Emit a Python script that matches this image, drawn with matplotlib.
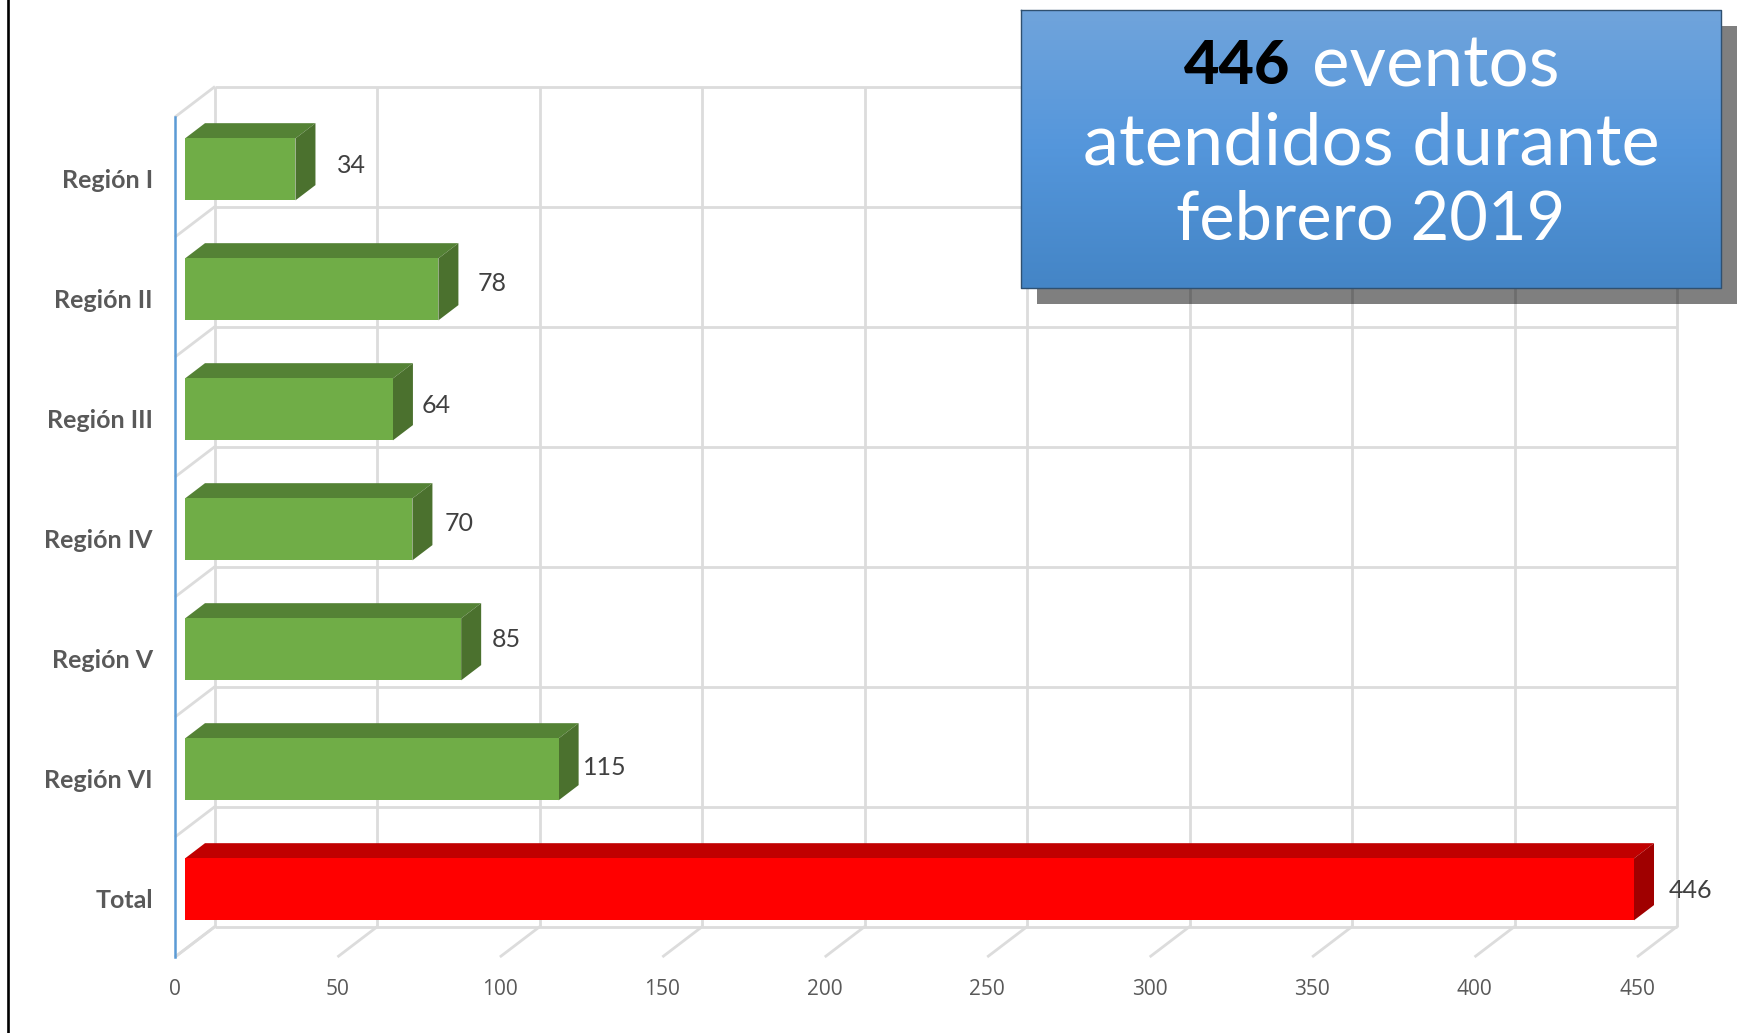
import numpy as np
import matplotlib
matplotlib.use('Agg')
import matplotlib.pyplot as plt

# данные
REGIONS = ['Región I', 'Región II', 'Región III', 'Región IV', 'Región V', 'Región VI', 'Total']
EVENTS = [34, 78, 64, 70, 85, 115, 446]
X_TICKS = [0, 50, 100, 150, 200, 250, 300, 350, 400, 450]

# сдвиг подписей от угла столбца, пиксели (вправо, вниз)
LABEL_DX = [56, 54, 43, 47, 45, 46, 57]
LABEL_DY = [27, 25, 27, 25, 21, 29, 32]

# глубина псевдо-3D
DEPTH_X = 40 / 3.249
DEPTH_Y = 0.254
BAR_H = 0.516

W, H = 1739, 1033
GRID = '#DCDCDC'
FONT = ['Lato', 'DejaVu Sans']

fig = plt.figure(figsize=(W / 100, H / 100), dpi=100, facecolor='white')
ax = fig.add_axes([175 / W, (H - 957) / H, 1462 / W, 840 / H])
ax.set_xlim(0, 450)
ax.set_ylim(len(REGIONS), 0)
ax.patch.set_visible(False)


def pr(v, cat, d):
    # проекция точки с глубиной d (0 - передняя плоскость, 1 - задняя)
    return v + d * DEPTH_X, cat - d * DEPTH_Y


def seg(p, q):
    ax.plot([p[0], q[0]], [p[1], q[1]], color=GRID, lw=2.0, clip_on=False, zorder=1,
            solid_capstyle='butt')


n = len(REGIONS)
for v in X_TICKS:
    seg(pr(v, 0, 1), pr(v, n, 1))
    seg(pr(v, n, 0), pr(v, n, 1))
for c in range(n + 1):
    seg(pr(0, c, 1), pr(450, c, 1))
    seg(pr(0, c, 0), pr(0, c, 1))

# столбцы
for i, val in enumerate(EVENTS):
    front, top, side = ('#FF0000', '#C00000', '#A00000') if REGIONS[i] == 'Total' \
        else ('#70AD47', '#548235', '#4B712E')
    y0 = i + 0.5 - BAR_H / 2
    y1 = i + 0.5 + BAR_H / 2
    a, b = pr(0, y0, 0.25), pr(val, y0, 0.25)
    c, d = pr(val, y1, 0.25), pr(0, y1, 0.25)
    e, f = pr(0, y0, 0.75), pr(val, y0, 0.75)
    g = pr(val, y1, 0.75)
    ax.fill(*zip(a, b, f, e), color=top, lw=0, clip_on=False, zorder=3)
    ax.fill(*zip(b, c, g, f), color=side, lw=0, clip_on=False, zorder=3)
    ax.fill(*zip(a, b, c, d), color=front, lw=0, clip_on=False, zorder=4)
    ax.annotate(str(val), xy=b, xytext=(LABEL_DX[i] * 0.72, -LABEL_DY[i] * 0.72),
                textcoords='offset points', ha='center', va='center', fontsize=18,
                family=FONT, color='#404040', zorder=5, annotation_clip=False)

for s in ['top', 'right', 'bottom']:
    ax.spines[s].set_visible(False)
ax.spines['left'].set_color('#5B9BD5')
ax.spines['left'].set_linewidth(1.8)
ax.set_xticks(X_TICKS)
ax.set_yticks(np.arange(n) + 0.51)
ax.set_yticklabels(REGIONS, fontsize=18, fontweight='bold', color='#595959', family=FONT)
ax.tick_params(axis='y', length=0, pad=16)
ax.tick_params(axis='x', length=0, pad=16, labelsize=15, labelcolor='#595959')
for t in ax.get_xticklabels():
    t.set_family(['Open Sans', 'DejaVu Sans'])

# слой поверх графика: рамка слева и плашка с текстом, в пикселях
ov = fig.add_axes([0, 0, 1, 1], zorder=10)
ov.set_xlim(0, W)
ov.set_ylim(H, 0)
ov.axis('off')
ov.plot([8, 8], [0, H], color='black', lw=1.9)
ov.fill([1037, 1737, 1737, 1037], [26, 26, 304, 304], color='black', alpha=0.5, lw=0)
grad = np.array([[112, 164, 220], [84, 150, 219], [68, 133, 198]]) / 255
yy = np.linspace(0, 2, 256)
img = np.stack([np.interp(yy, [0, 1, 2], grad[:, k]) for k in range(3)], axis=1)[:, None, :]
ov.imshow(img, extent=[1021, 1721, 288, 10], aspect='auto', zorder=2)
ov.plot([1021, 1721, 1721, 1021, 1021], [10, 10, 288, 288, 10], color='#2F5070', lw=1, zorder=3)
ov.set_xlim(0, W)
ov.set_ylim(H, 0)
ov.text(1290, 66, '446', ha='right', va='center', fontsize=44, fontweight='black',
        color='black', family=FONT, zorder=4)
ov.text(1312, 66, 'eventos', ha='left', va='center', fontsize=51, fontweight='normal',
        color='white', family=FONT, zorder=4)
ov.text(1371, 144, 'atendidos durante', ha='center', va='center', fontsize=52,
        fontweight='normal', color='white', family=FONT, zorder=4)
ov.text(1371, 221, 'febrero 2019', ha='center', va='center', fontsize=48,
        fontweight='normal', color='white', family=FONT, zorder=4)

fig.savefig('out.png', dpi=100)
